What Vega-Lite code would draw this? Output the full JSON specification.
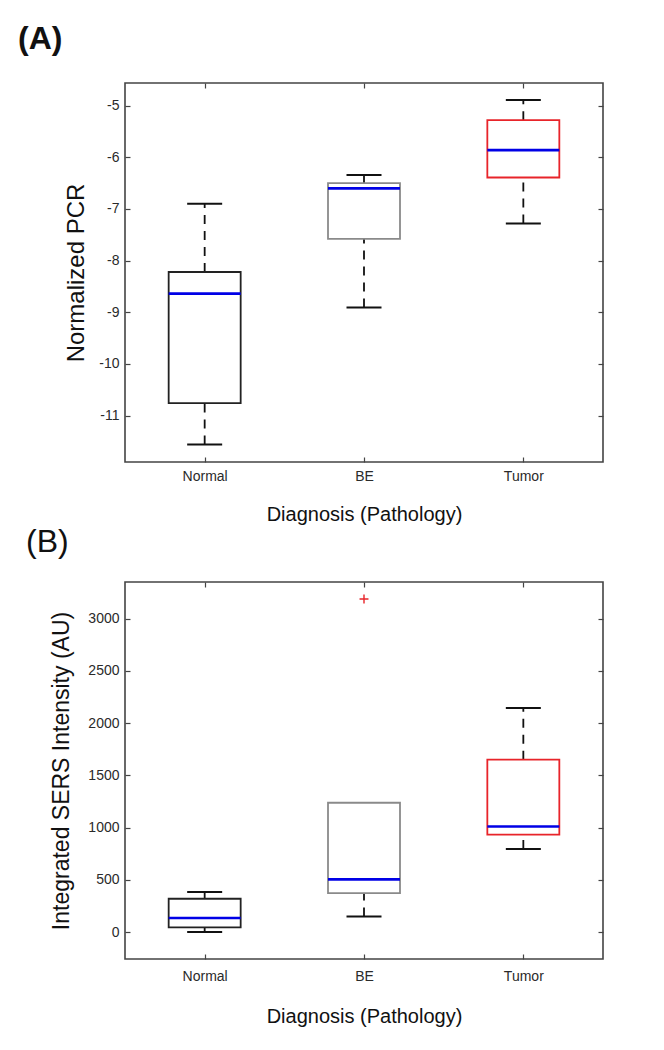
{
  "$schema": "https://vega.github.io/schema/vega-lite/v6.json",
  "padding": {"left": 17, "top": 22, "right": 5, "bottom": 5},
  "background": "white",
  "spacing": 0,
  "datasets": {
    "pcr": [
      {"cat": "Normal", "wlo": -11.56, "q1": -10.76, "med": -8.64, "q3": -8.22, "whi": -6.90},
      {"cat": "BE", "wlo": -8.91, "q1": -7.58, "med": -6.60, "q3": -6.50, "whi": -6.34},
      {"cat": "Tumor", "wlo": -7.28, "q1": -6.39, "med": -5.86, "q3": -5.28, "whi": -4.89}
    ],
    "sers": [
      {"cat": "Normal", "wlo": 0, "q1": 44, "med": 134, "q3": 319, "whi": 383},
      {"cat": "BE", "wlo": 149, "q1": 373, "med": 504, "q3": 1238, "whi": null},
      {"cat": "Tumor", "wlo": 795, "q1": 932, "med": 1011, "q3": 1650, "whi": 2145}
    ],
    "sersOut": [
      {"cat": "BE", "val": 3188}
    ]
  },
  "vconcat": [
    {
      "width": 478,
      "height": 379,
      "title": {"text": "(A)", "anchor": "start", "frame": "group", "dx": -107, "offset": 26, "fontSize": 32, "fontWeight": "bold", "font": "Liberation Sans", "color": "#111"},
      "data": {"name": "pcr"},
      "resolve": {"axis": {"x": "independent", "y": "independent"}},
      "layer": [
        {
          "transform": [{"filter": "isValid(datum.whi)"}],
          "mark": {"type": "rule", "strokeDash": [9, 7], "strokeWidth": 1.8, "color": "#111"},
          "encoding": {
            "x": {"field": "cat", "type": "nominal", "scale": {"type": "point", "padding": 0.5, "domain": ["Normal", "BE", "Tumor"]},
              "axis": {"orient": "bottom", "title": "Diagnosis (Pathology)", "titleFontSize": 20, "titlePadding": 21, "labelPadding": 12, "labelAngle": 0}},
            "y": {"field": "q3", "type": "quantitative", "scale": {"domain": [-11.9, -4.56], "nice": false, "zero": false},
              "axis": {"orient": "left", "values": [-11, -10, -9, -8, -7, -6, -5], "labelExpr": "datum.value < 0 ? '-' + abs(datum.value) : '' + datum.value", "title": "Normalized PCR", "titleFontSize": 24, "titlePadding": 10, "labelPadding": 11}},
            "y2": {"field": "whi"}
          }
        },
        {
          "mark": {"type": "rule", "strokeDash": [9, 7], "strokeWidth": 1.8, "color": "#111"},
          "encoding": {
            "x": {"field": "cat", "type": "nominal", "axis": {"orient": "top", "labels": false, "title": null}},
            "y": {"field": "wlo", "type": "quantitative", "axis": {"orient": "right", "labels": false, "title": null, "values": [-11, -10, -9, -8, -7, -6, -5]}},
            "y2": {"field": "q1"}
          }
        },
        {
          "transform": [{"filter": "isValid(datum.whi)"}],
          "mark": {"type": "tick", "size": 35, "thickness": 2, "color": "#111", "opacity": 1},
          "encoding": {
            "x": {"field": "cat", "type": "nominal", "axis": null},
            "y": {"field": "whi", "type": "quantitative", "axis": null}
          }
        },
        {
          "mark": {"type": "tick", "size": 35, "thickness": 2, "color": "#111", "opacity": 1},
          "encoding": {
            "x": {"field": "cat", "type": "nominal", "axis": null},
            "y": {"field": "wlo", "type": "quantitative", "axis": null}
          }
        },
        {
          "mark": {"type": "bar", "size": 72, "fill": "white", "strokeWidth": 1.8, "opacity": 1},
          "encoding": {
            "x": {"field": "cat", "type": "nominal", "axis": null},
            "y": {"field": "q1", "type": "quantitative", "axis": null},
            "y2": {"field": "q3"},
            "stroke": {"field": "cat", "type": "nominal", "scale": {"domain": ["Normal", "BE", "Tumor"], "range": ["#222222", "#8a8a8a", "#e8242a"]}, "legend": null}
          }
        },
        {
          "mark": {"type": "tick", "size": 72, "thickness": 2.6, "color": "#0000e6", "opacity": 1},
          "encoding": {
            "x": {"field": "cat", "type": "nominal", "axis": null},
            "y": {"field": "med", "type": "quantitative", "axis": null}
          }
        }
      ]
    },
    {
      "width": 478,
      "height": 377,
      "title": {"text": "(B)", "anchor": "start", "frame": "group", "dx": -99, "offset": 22, "fontSize": 32, "fontWeight": "normal", "font": "Liberation Sans", "color": "#111"},
      "resolve": {"axis": {"x": "independent", "y": "independent"}},
      "layer": [
        {
          "data": {"name": "sers"},
          "transform": [{"filter": "isValid(datum.whi)"}],
          "mark": {"type": "rule", "strokeDash": [9, 7], "strokeWidth": 1.8, "color": "#111"},
          "encoding": {
            "x": {"field": "cat", "type": "nominal", "scale": {"type": "point", "padding": 0.5, "domain": ["Normal", "BE", "Tumor"]},
              "axis": {"orient": "bottom", "title": "Diagnosis (Pathology)", "titleFontSize": 20, "titlePadding": 23, "labelPadding": 15, "labelAngle": 0}},
            "y": {"field": "q3", "type": "quantitative", "scale": {"domain": [-258, 3351], "nice": false, "zero": false},
              "axis": {"orient": "left", "values": [0, 500, 1000, 1500, 2000, 2500, 3000], "format": "d", "title": "Integrated SERS Intensity (AU)", "titleFontSize": 23, "titlePadding": 14, "labelPadding": 11}},
            "y2": {"field": "whi"}
          }
        },
        {
          "data": {"name": "sers"},
          "mark": {"type": "rule", "strokeDash": [9, 7], "strokeWidth": 1.8, "color": "#111"},
          "encoding": {
            "x": {"field": "cat", "type": "nominal", "axis": {"orient": "top", "labels": false, "title": null}},
            "y": {"field": "wlo", "type": "quantitative", "axis": {"orient": "right", "labels": false, "title": null, "values": [0, 500, 1000, 1500, 2000, 2500, 3000]}},
            "y2": {"field": "q1"}
          }
        },
        {
          "data": {"name": "sers"},
          "transform": [{"filter": "isValid(datum.whi)"}],
          "mark": {"type": "tick", "size": 35, "thickness": 2, "color": "#111", "opacity": 1},
          "encoding": {
            "x": {"field": "cat", "type": "nominal", "axis": null},
            "y": {"field": "whi", "type": "quantitative", "axis": null}
          }
        },
        {
          "data": {"name": "sers"},
          "mark": {"type": "tick", "size": 35, "thickness": 2, "color": "#111", "opacity": 1},
          "encoding": {
            "x": {"field": "cat", "type": "nominal", "axis": null},
            "y": {"field": "wlo", "type": "quantitative", "axis": null}
          }
        },
        {
          "data": {"name": "sers"},
          "mark": {"type": "bar", "size": 72, "fill": "white", "strokeWidth": 1.8, "opacity": 1},
          "encoding": {
            "x": {"field": "cat", "type": "nominal", "axis": null},
            "y": {"field": "q1", "type": "quantitative", "axis": null},
            "y2": {"field": "q3"},
            "stroke": {"field": "cat", "type": "nominal", "scale": {"domain": ["Normal", "BE", "Tumor"], "range": ["#222222", "#8a8a8a", "#e8242a"]}, "legend": null}
          }
        },
        {
          "data": {"name": "sers"},
          "mark": {"type": "tick", "size": 72, "thickness": 2.6, "color": "#0000e6", "opacity": 1},
          "encoding": {
            "x": {"field": "cat", "type": "nominal", "axis": null},
            "y": {"field": "med", "type": "quantitative", "axis": null}
          }
        },
        {
          "data": {"name": "sersOut"},
          "mark": {"type": "point", "shape": "M-1,0L1,0M0,-1L0,1", "size": 80, "filled": false, "stroke": "#e8242a", "strokeWidth": 1.4, "opacity": 1},
          "encoding": {
            "x": {"field": "cat", "type": "nominal", "axis": null},
            "y": {"field": "val", "type": "quantitative", "axis": null}
          }
        }
      ]
    }
  ],
  "config": {
    "font": "Liberation Sans",
    "view": {"stroke": "#444444", "strokeWidth": 1.6},
    "axis": {
      "labelFont": "Liberation Sans",
      "labelFontSize": 14,
      "labelColor": "#2a2a2a",
      "titleFont": "Liberation Sans",
      "titleColor": "#111111",
      "titleFontWeight": "normal",
      "domain": false,
      "grid": false,
      "tickColor": "#444444",
      "tickSize": -5,
      "tickWidth": 1.2
    }
  }
}
